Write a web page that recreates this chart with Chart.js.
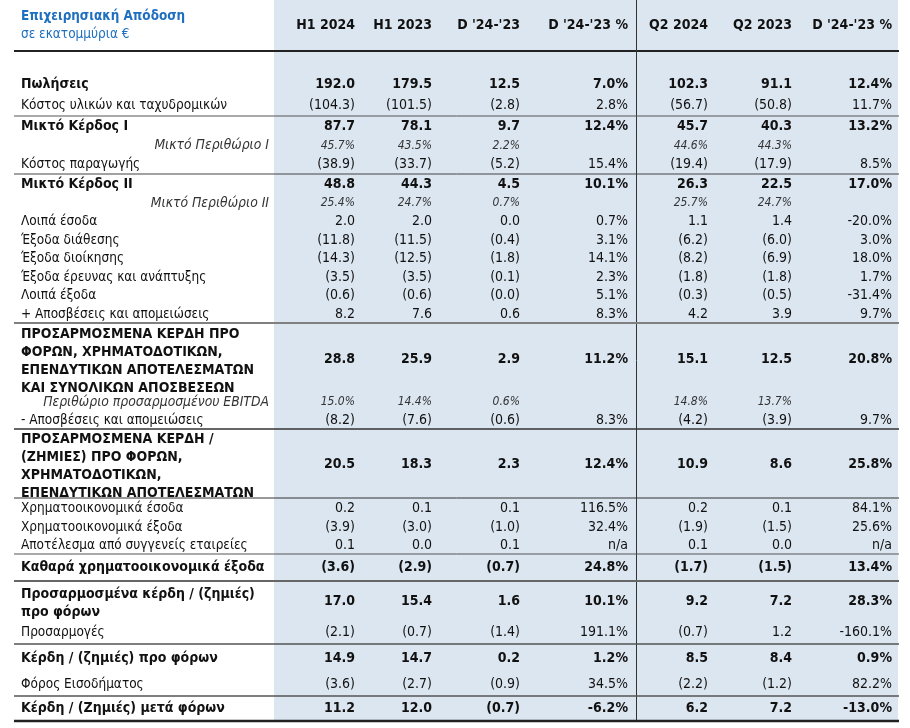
<!DOCTYPE html>
<html>
<head>
<meta charset="utf-8">
<script src="https://cdn.jsdelivr.net/npm/chart.js@4"></script>
<style>
  body { margin: 0; background: #fff; }
  #wrap { width: 910px; height: 728px; position: relative; }
</style>
</head>
<body>
<div id="wrap"><canvas id="tableChart"></canvas></div>
<script>
// Operating performance table, drawn on a Chart.js canvas

const title = 'Επιχειρησιακή Απόδοση';
const subtitle = 'σε εκατομμύρια €';

const columns = ['H1 2024', 'H1 2023', "D '24-'23", "D '24-'23 %", 'Q2 2024', 'Q2 2023', "D '24-'23 %"];

const categories = [
    'Πωλήσεις',
    'Κόστος υλικών και ταχυδρομικών',
    'Μικτό Κέρδος I',
    'Μικτό Περιθώριο I',
    'Κόστος παραγωγής',
    'Μικτό Κέρδος II',
    'Μικτό Περιθώριο II',
    'Λοιπά έσοδα',
    'Έξοδα διάθεσης',
    'Έξοδα διοίκησης',
    'Έξοδα έρευνας και ανάπτυξης',
    'Λοιπά έξοδα',
    '+ Αποσβέσεις και απομειώσεις',
    ['ΠΡΟΣΑΡΜΟΣΜΕΝΑ ΚΕΡΔΗ ΠΡΟ', 'ΦΟΡΩΝ, ΧΡΗΜΑΤΟΔΟΤΙΚΩΝ,', 'ΕΠΕΝΔΥΤΙΚΩΝ ΑΠΟΤΕΛΕΣΜΑΤΩΝ', 'ΚΑΙ ΣΥΝΟΛΙΚΩΝ ΑΠΟΣΒΕΣΕΩΝ'],
    'Περιθώριο προσαρμοσμένου EBITDA',
    '- Αποσβέσεις και απομειώσεις',
    ['ΠΡΟΣΑΡΜΟΣΜΕΝΑ ΚΕΡΔΗ /', '(ΖΗΜΙΕΣ) ΠΡΟ ΦΟΡΩΝ,', 'ΧΡΗΜΑΤΟΔΟΤΙΚΩΝ,', 'ΕΠΕΝΔΥΤΙΚΩΝ ΑΠΟΤΕΛΕΣΜΑΤΩΝ'],
    'Χρηματοοικονομικά έσοδα',
    'Χρηματοοικονομικά έξοδα',
    'Αποτέλεσμα από συγγενείς εταιρείες',
    'Καθαρά χρηματοοικονομικά έξοδα',
    ['Προσαρμοσμένα κέρδη / (ζημιές)', 'προ φόρων'],
    'Προσαρμογές',
    'Κέρδη / (ζημιές) προ φόρων',
    'Φόρος Εισοδήματος',
    'Κέρδη / (Ζημιές) μετά φόρων'
];

// b = bold total, n = normal line, m = margin (italic, %)
const rowKind = ['b','n','b','m','n','b','m','n','n','n','n','n','n','b','m','n','b','n','n','n','b','b','n','b','n','b'];

const h1_2024 = [192.0, -104.3, 87.7, 45.7, -38.9, 48.8, 25.4, 2.0, -11.8, -14.3, -3.5, -0.6, 8.2, 28.8, 15.0, -8.2, 20.5, 0.2, -3.9, 0.1, -3.6, 17.0, -2.1, 14.9, -3.6, 11.2];
const h1_2023 = [179.5, -101.5, 78.1, 43.5, -33.7, 44.3, 24.7, 2.0, -11.5, -12.5, -3.5, -0.6, 7.6, 25.9, 14.4, -7.6, 18.3, 0.1, -3.0, 0.0, -2.9, 15.4, -0.7, 14.7, -2.7, 12.0];
const diffH1 = [12.5, -2.8, 9.7, 2.2, -5.2, 4.5, 0.7, 0.0, -0.4, -1.8, -0.1, -0.0, 0.6, 2.9, 0.6, -0.6, 2.3, 0.1, -1.0, 0.1, -0.7, 1.6, -1.4, 0.2, -0.9, -0.7];
const pctH1 = [7.0, 2.8, 12.4, null, 15.4, 10.1, null, 0.7, 3.1, 14.1, 2.3, 5.1, 8.3, 11.2, null, 8.3, 12.4, 116.5, 32.4, 'n/a', 24.8, 10.1, 191.1, 1.2, 34.5, -6.2];
const q2_2024 = [102.3, -56.7, 45.7, 44.6, -19.4, 26.3, 25.7, 1.1, -6.2, -8.2, -1.8, -0.3, 4.2, 15.1, 14.8, -4.2, 10.9, 0.2, -1.9, 0.1, -1.7, 9.2, -0.7, 8.5, -2.2, 6.2];
const q2_2023 = [91.1, -50.8, 40.3, 44.3, -17.9, 22.5, 24.7, 1.4, -6.0, -6.9, -1.8, -0.5, 3.9, 12.5, 13.7, -3.9, 8.6, 0.1, -1.5, 0.0, -1.5, 7.2, 1.2, 8.4, -1.2, 7.2];
const pctQ2 = [12.4, 11.7, 13.2, null, 8.5, 17.0, null, -20.0, 3.0, 18.0, 1.7, -31.4, 9.7, 20.8, null, 9.7, 25.8, 84.1, 25.6, 'n/a', 13.4, 28.3, -160.1, 0.9, 82.2, -13.0];

const series = [h1_2024, h1_2023, diffH1, pctH1, q2_2024, q2_2023, pctQ2];
const isPct = [false, false, false, true, false, false, true];

// layout (in units of the x / y scales)
const colRight = [355, 432, 520, 628, 708, 792, 892];
const rowHeights = [21,21,20,19,19,20,18,19,18,19,18,19,18,70,18,18,69,20,18,18,27,39,24,28,24,25];
const bodyTop = 74;
// separator under row i: [row, colour, width]
const rules = [[1,'#555',1],[4,'#444',1],[12,'#808080',2],[15,'#333',1.5],[16,'#333',1],[19,'#555',1],[20,'#666',2],[22,'#555',1.5],[24,'#555',1.5],[25,'#222',2.5]];

const FONT = '"DejaVu Sans Condensed", "DejaVu Sans", sans-serif';

function fmt(v, pct, kind) {
    if (v === null) return '';
    if (typeof v === 'string') return v;
    if (pct || kind === 'm') return v.toFixed(1) + '%';
    const neg = v < 0 || Object.is(v, -0);
    return neg ? '(' + Math.abs(v).toFixed(1) + ')' : v.toFixed(1);
}

const tablePlugin = {
    id: 'tableCells',
    beforeDraw(chart) {
        const c = chart.ctx, x = chart.scales.x, y = chart.scales.y;
        c.save();
        c.fillStyle = '#dce6f1';
        c.fillRect(x.getPixelForValue(274), y.getPixelForValue(0),
                   x.getPixelForValue(898) - x.getPixelForValue(274),
                   y.getPixelForValue(721) - y.getPixelForValue(0));
        c.restore();
    },
    afterDraw(chart) {
        const c = chart.ctx, x = chart.scales.x, y = chart.scales.y;
        c.save();
        c.textBaseline = 'middle';

        // title block
        c.fillStyle = '#1f6fc0';
        c.textAlign = 'left';
        c.font = 'bold 13.4px ' + FONT;
        c.fillText(title, x.getPixelForValue(21), y.getPixelForValue(17));
        c.font = '13.5px ' + FONT;
        c.fillText(subtitle, x.getPixelForValue(21), y.getPixelForValue(34));

        // column headers
        c.fillStyle = '#111';
        c.textAlign = 'right';
        c.font = 'bold 14px ' + FONT;
        columns.forEach((h, j) => c.fillText(h, x.getPixelForValue(colRight[j]), y.getPixelForValue(25)));

        // header rule + column divider
        c.strokeStyle = '#222';
        c.lineWidth = 2;
        c.beginPath();
        c.moveTo(x.getPixelForValue(14), y.getPixelForValue(51));
        c.lineTo(x.getPixelForValue(899), y.getPixelForValue(51));
        c.stroke();
        c.lineWidth = 1;
        c.strokeStyle = '#333';
        c.beginPath();
        c.moveTo(x.getPixelForValue(636.5), y.getPixelForValue(0));
        c.lineTo(x.getPixelForValue(636.5), y.getPixelForValue(721));
        c.stroke();

        // rows
        let top = bodyTop;
        const bottoms = [];
        categories.forEach((lab, i) => {
            const h = rowHeights[i];
            const mid = y.getPixelForValue(top + h / 2);
            const kind = rowKind[i];
            const lines = Array.isArray(lab) ? lab : [lab];
            const multi = lines.length > 1;

            c.fillStyle = kind === 'm' ? '#333' : '#111';
            if (kind === 'm') {
                c.font = 'italic 13.8px ' + FONT;
                c.textAlign = 'right';
                c.fillText(lab, x.getPixelForValue(269), mid);
            } else {
                c.font = (kind === 'b' ? 'bold 14px ' : '13.5px ') + FONT;
                c.textAlign = 'left';
                lines.forEach((ln, k) => {
                    const off = (k - (lines.length - 1) / 2) * 18 + (multi ? 3 : 0);
                    c.fillText(ln, x.getPixelForValue(21), mid + off);
                });
            }

            if (kind === 'b') c.font = 'bold 14px ' + FONT;
            else if (kind === 'm') c.font = 'italic 12px ' + FONT;
            else c.font = '14px ' + FONT;
            c.textAlign = 'right';
            series.forEach((s, j) => {
                const txt = fmt(s[i], isPct[j], kind);
                if (txt) c.fillText(txt, x.getPixelForValue(colRight[j]), multi ? mid + 1 : mid);
            });

            top += h;
            bottoms.push(top);
        });

        // separators
        rules.forEach(([r, col, w]) => {
            const yy = y.getPixelForValue(bottoms[r]);
            c.strokeStyle = col;
            c.lineWidth = w;
            c.beginPath();
            c.moveTo(x.getPixelForValue(14), yy);
            c.lineTo(x.getPixelForValue(899), yy);
            c.stroke();
        });
        c.restore();
    }
};

const ctx = document.getElementById('tableChart').getContext('2d');

new Chart(ctx, {
    type: 'scatter',
    data: { datasets: [{ data: [], pointRadius: 0 }] },
    options: {
        responsive: true,
        maintainAspectRatio: false,
        animation: false,
        layout: { padding: 0 },
        plugins: {
            legend: { display: false },
            tooltip: { enabled: false }
        },
        scales: {
            x: { type: 'linear', min: 0, max: 910, display: false },
            y: { type: 'linear', min: 0, max: 728, reverse: true, display: false }
        }
    },
    plugins: [tablePlugin]
});
</script>
</body>
</html>
